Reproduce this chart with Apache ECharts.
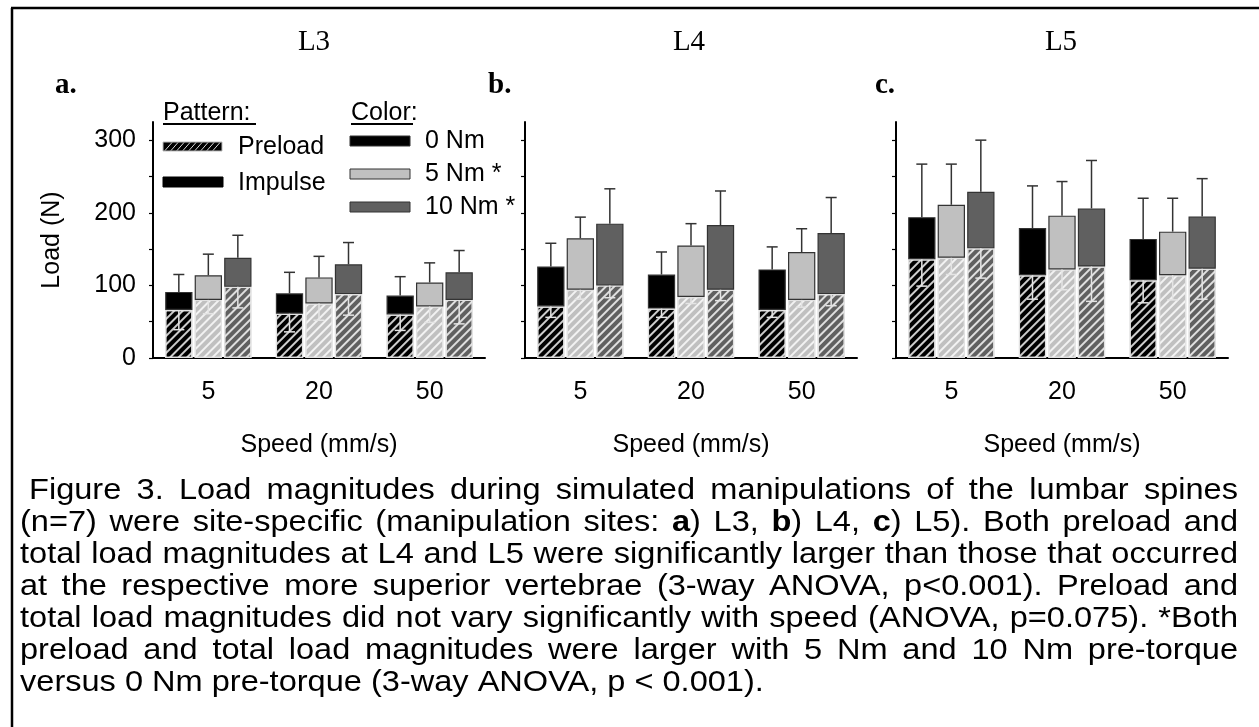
<!DOCTYPE html>
<html><head><meta charset="utf-8">
<script src="https://cdn.jsdelivr.net/npm/echarts@6/dist/echarts.min.js"></script>
<style>html,body{margin:0;padding:0;background:#fff}#c{width:1259px;height:727px}</style>
</head><body><div id="c"></div>
<script>
// ---------- data ----------
const speeds = ['5', '20', '50'];
const torques = ['0 Nm', '5 Nm *', '10 Nm *'];
const sites = ['L3', 'L4', 'L5'];
const panelLetters = ['a.', 'b.', 'c.'];
const yTickValues = [0, 100, 200, 300];
const yMinorTickValues = [0, 50, 100, 150, 200, 250, 300];

// rows: 0 Nm, 5 Nm, 10 Nm ; columns: speeds 5, 20, 50 mm/s
const preloadL3   = [[66, 61, 60], [80, 75, 71], [98, 88, 80]];
const preloadSdL3 = [[27, 25, 22], [19, 23, 22], [29, 29, 33]];
const totalL3     = [[91, 89, 86], [114, 111, 104], [138, 129, 118]];
const totalSdL3   = [[24, 29, 26], [29, 29, 27], [31, 30, 30]];

const preloadL4   = [[71, 68, 66], [94, 84, 80], [100, 94, 88]];
const preloadSdL4 = [[15, 12, 10], [13, 9, 10], [17, 15, 16]];
const totalL4     = [[126, 115, 122], [165, 155, 146], [185, 183, 172]];
const totalSdL4   = [[32, 31, 31], [29, 30, 32], [48, 47, 49]];

const preloadL5   = [[136, 114, 107], [138, 122, 114], [151, 126, 123]];
const preloadSdL5 = [[37, 33, 31], [23, 28, 34], [41, 48, 42]];
const totalL5     = [[194, 179, 164], [211, 196, 174], [229, 206, 195]];
const totalSdL5   = [[73, 58, 56], [56, 47, 46], [71, 66, 52]];

const captionLines = [
  'Figure 3. Load magnitudes during simulated manipulations of the lumbar spines',
  '(n=7) were site-specific (manipulation sites: {b|a}) L3, {b|b}) L4, {b|c}) L5). Both preload and',
  'total load magnitudes at L4 and L5 were significantly larger than those that occurred',
  'at the respective more superior vertebrae (3-way ANOVA, p<0.001). Preload and',
  'total load magnitudes did not vary significantly with speed (ANOVA, p=0.075). *Both',
  'preload and total load magnitudes were larger with 5 Nm and 10 Nm pre-torque',
  'versus 0 Nm pre-torque (3-way ANOVA, p < 0.001).'
];

// ---------- style / layout ----------
const SANS = '"Liberation Sans", Arial, sans-serif';
const SERIF = '"Liberation Serif", "Times New Roman", serif';
const torqueColors = ['#000000', '#c0c0c0', '#606060'];
const gridLefts = [153, 525, 896];
const GRID_W = 332, GRID_TOP = 122, GRID_H = 236;
const CAT_GAP = 0.22, BAR_GAP = 0.08;

const preloads = [preloadL3, preloadL4, preloadL5];
const preloadSds = [preloadSdL3, preloadSdL4, preloadSdL5];
const totals = [totalL3, totalL4, totalL5];
const totalSds = [totalSdL3, totalSdL4, totalSdL5];

const hatch = {
  symbol: 'rect', symbolSize: 1,
  dashArrayX: [1, 0], dashArrayY: [1.2, 4],
  rotation: -Math.PI / 4,
  color: 'rgba(255,255,255,0.8)'
};

const grids = [], xAxes = [], yAxes = [], series = [];

function renderErr(params, api) {
  const cat = api.value(0), t = api.value(1), mean = api.value(2), sd = api.value(3), dir = api.value(4);
  const p0 = api.coord([cat, mean]);
  const p1 = api.coord([cat, mean + dir * sd]);
  const band = api.size([1, 0])[0];
  const groupW = band * (1 - CAT_GAP);
  const w = groupW / (3 + 2 * BAR_GAP);
  const x = p0[0] - groupW / 2 + t * w * (1 + BAR_GAP) + w / 2;
  const cap = 5.5;
  const color = dir > 0 ? '#333333' : '#e4e4e4';
  return {
    type: 'group',
    children: [
      { type: 'line', shape: { x1: x, y1: p0[1], x2: x, y2: p1[1] }, style: { stroke: color, lineWidth: 1.5 } },
      { type: 'line', shape: { x1: x - cap, y1: p1[1], x2: x + cap, y2: p1[1] }, style: { stroke: color, lineWidth: 1.5 } }
    ]
  };
}

for (let g = 0; g < 3; g++) {
  grids.push({ left: gridLefts[g], top: GRID_TOP, width: GRID_W, height: GRID_H, containLabel: false });
  xAxes.push({
    type: 'category', gridIndex: g, data: speeds,
    name: 'Speed (mm/s)', nameLocation: 'middle', nameGap: 75,
    nameTextStyle: { fontFamily: SANS, fontSize: 25, color: '#000' },
    axisLine: { lineStyle: { color: '#000', width: 2 } },
    axisTick: { alignWithLabel: true, length: 5, lineStyle: { color: '#000', width: 1.5 } },
    axisLabel: { margin: 22, fontFamily: SANS, fontSize: 25, color: '#000' },
    splitLine: { show: false }
  });
  yAxes.push({
    type: 'value', gridIndex: g, min: 0, max: 325, interval: 100,
    name: g === 0 ? 'Load (N)' : '', nameLocation: 'middle', nameGap: 88, nameRotate: 90,
    nameTextStyle: { fontFamily: SANS, fontSize: 25, color: '#000' },
    axisLine: { show: true, lineStyle: { color: '#000', width: 2 } },
    axisTick: { show: true, length: 4, customValues: yMinorTickValues, lineStyle: { color: '#000', width: 1.2 } },
    axisLabel: { show: g === 0, customValues: yTickValues, margin: 17, fontFamily: SANS, fontSize: 25, color: '#000' },
    splitLine: { show: false }
  });
  const errData = [];
  for (let t = 0; t < 3; t++) {
    const pre = preloads[g][t], tot = totals[g][t];
    series.push({
      type: 'bar', name: 'Preload ' + torques[t], xAxisIndex: g, yAxisIndex: g,
      stack: 's' + g + '_' + t, data: pre,
      barCategoryGap: (CAT_GAP * 100) + '%', barGap: (BAR_GAP * 100) + '%',
      itemStyle: { color: torqueColors[t], borderColor: '#e2e2e2', borderWidth: 1.2, decal: hatch },
      emphasis: { disabled: true }
    });
    series.push({
      type: 'bar', name: 'Impulse ' + torques[t], xAxisIndex: g, yAxisIndex: g,
      stack: 's' + g + '_' + t, data: tot.map((v, i) => v - pre[i]),
      barCategoryGap: (CAT_GAP * 100) + '%', barGap: (BAR_GAP * 100) + '%',
      itemStyle: { color: torqueColors[t], borderColor: '#333', borderWidth: 1.2 },
      emphasis: { disabled: true }
    });
    for (let i = 0; i < speeds.length; i++) {
      errData.push([i, t, tot[i], totalSds[g][t][i], 1]);
      errData.push([i, t, pre[i], preloadSds[g][t][i], -1]);
    }
  }
  series.push({
    type: 'custom', xAxisIndex: g, yAxisIndex: g, data: errData,
    encode: { x: 0, y: 2 }, renderItem: renderErr, z: 10, silent: true
  });
}

// ---------- graphics: frame, titles, legend, caption ----------
const graphic = [];
graphic.push({ type: 'line', shape: { x1: 12, y1: 8, x2: 12, y2: 727 }, style: { stroke: '#000', lineWidth: 2.5 } });
graphic.push({ type: 'line', shape: { x1: 11, y1: 8, x2: 1259, y2: 8 }, style: { stroke: '#000', lineWidth: 2.5 } });

const titleX = [314, 689, 1061];
const letterX = [55, 488, 875];
for (let g = 0; g < 3; g++) {
  graphic.push({ type: 'text', style: { text: sites[g], x: titleX[g], y: 42, align: 'center', verticalAlign: 'middle', fontFamily: SERIF, fontSize: 29, fill: '#000' } });
  graphic.push({ type: 'text', style: { text: panelLetters[g], x: letterX[g], y: 86, align: 'left', verticalAlign: 'middle', fontFamily: SERIF, fontWeight: 'bold', fontSize: 29, fill: '#000' } });
}

// legend headers
const legendFont = { fontFamily: SANS, fontSize: 25, fill: '#000', verticalAlign: 'middle' };
graphic.push({ type: 'text', style: Object.assign({ text: 'Pattern:', x: 163, y: 113 }, legendFont) });
graphic.push({ type: 'line', shape: { x1: 163, y1: 124, x2: 256, y2: 124 }, style: { stroke: '#000', lineWidth: 2 } });
graphic.push({ type: 'text', style: Object.assign({ text: 'Color:', x: 351, y: 113 }, legendFont) });
graphic.push({ type: 'line', shape: { x1: 351, y1: 124, x2: 413, y2: 124 }, style: { stroke: '#000', lineWidth: 2 } });

// pattern legend
graphic.push({ type: 'rect', shape: { x: 163, y: 142, width: 59, height: 9 }, style: { fill: '#000', stroke: '#bbb', lineWidth: 1 } });
for (let x = 165; x < 218; x += 6) {
  graphic.push({ type: 'line', shape: { x1: x, y1: 150.5, x2: x + 7, y2: 142.5 }, style: { stroke: 'rgba(255,255,255,0.85)', lineWidth: 1 } });
}
graphic.push({ type: 'text', style: Object.assign({ text: 'Preload', x: 238, y: 147 }, legendFont) });
graphic.push({ type: 'rect', shape: { x: 163, y: 177, width: 60, height: 10 }, style: { fill: '#000', stroke: '#000', lineWidth: 1 } });
graphic.push({ type: 'text', style: Object.assign({ text: 'Impulse', x: 238, y: 183 }, legendFont) });

// color legend
const colorLegendY = [141, 174, 207];
for (let t = 0; t < 3; t++) {
  graphic.push({ type: 'rect', shape: { x: 350, y: colorLegendY[t] - 5, width: 60, height: 10 }, style: { fill: torqueColors[t], stroke: '#333', lineWidth: 1 } });
  graphic.push({ type: 'text', style: Object.assign({ text: torques[t], x: 425, y: colorLegendY[t] }, legendFont) });
}

// caption, justified (slightly wide typeface as in the original)
const CAP_SIZE = 30, CAP_SX = 1.085, CAP_LEFT = 20, CAP_RIGHT = 1238, CAP_TOP = 491, CAP_LH = 32;
const mctx = document.createElement('canvas').getContext('2d');
function segs(word) {
  const out = []; const re = /\{b\|([^}]*)\}/g; let last = 0, m;
  while ((m = re.exec(word))) {
    if (m.index > last) out.push({ t: word.slice(last, m.index), b: false });
    out.push({ t: m[1], b: true }); last = re.lastIndex;
  }
  if (last < word.length) out.push({ t: word.slice(last), b: false });
  return out;
}
function wordWidth(word) {
  return CAP_SX * segs(word).reduce((s, p) => {
    mctx.font = (p.b ? 'bold ' : '') + CAP_SIZE + 'px ' + SANS;
    return s + mctx.measureText(p.t).width;
  }, 0);
}
mctx.font = CAP_SIZE + 'px ' + SANS;
const spaceW = mctx.measureText(' ').width * CAP_SX;
captionLines.forEach((line, li) => {
  const words = line.split(' ');
  const widths = words.map(wordWidth);
  const sum = widths.reduce((a, b) => a + b, 0);
  const start = li === 0 ? CAP_LEFT + spaceW : CAP_LEFT;
  const last = li === captionLines.length - 1;
  const gap = last ? spaceW : (CAP_RIGHT - start - sum) / (words.length - 1);
  let x = start;
  words.forEach((w, wi) => {
    graphic.push({
      type: 'text', x: x, y: CAP_TOP + li * CAP_LH, scaleX: CAP_SX,
      style: {
        text: w, x: 0, y: 0, verticalAlign: 'middle', align: 'left',
        fontFamily: SANS, fontSize: CAP_SIZE, fill: '#000',
        rich: { b: { fontWeight: 'bold', fontFamily: SANS, fontSize: CAP_SIZE, fill: '#000' } }
      }
    });
    x += widths[wi] + gap;
  });
});

const chart = echarts.init(document.getElementById('c'), null, { renderer: 'canvas' });
chart.setOption({
  backgroundColor: '#ffffff',
  animation: false,
  grid: grids, xAxis: xAxes, yAxis: yAxes, series: series,
  graphic: graphic
});
</script></body></html>
